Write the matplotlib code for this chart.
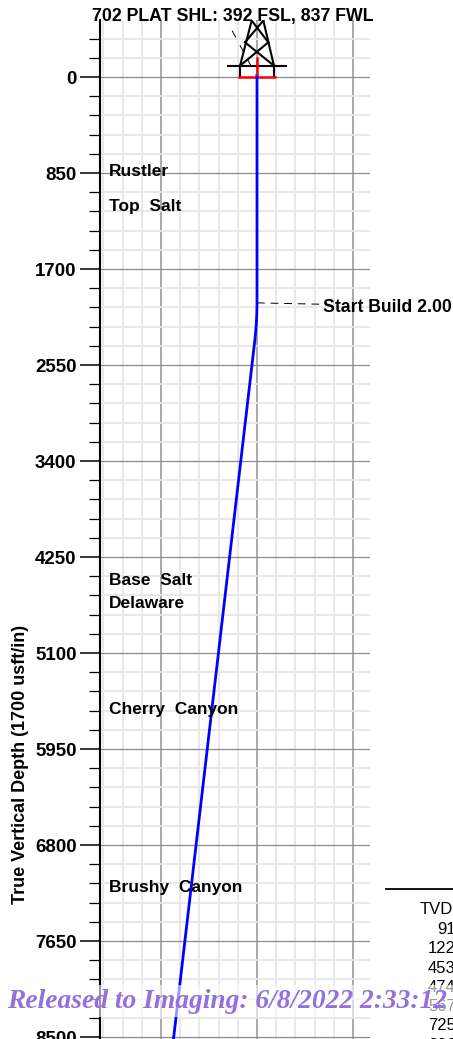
import matplotlib
matplotlib.use("Agg")
import matplotlib.pyplot as plt
from matplotlib.patches import Rectangle
import numpy as np

plt.rcParams['font.family'] = ['Liberation Sans', 'DejaVu Sans']

W, H = 453, 1039

# well path, vertical section vs TVD (usft)
path_tvd = [0, 2000, 2100, 2200, 2330, 8600]
path_vs = [0, 0, -2, -7, -19, -749]

# formation tops: name, label depth
form_names = ["Rustler", "Top  Salt", "Base  Salt", "Delaware", "Cherry  Canyon", "Brushy  Canyon", "Bone  Spring"]
form_tvd = [835, 1145, 4457, 4662, 5602, 7177, 8580]

major_ticks = [0, 850, 1700, 2550, 3400, 4250, 5100, 5950, 6800, 7650, 8500]
major_x = [-850, 0, 850]

# rig drawing, in chart units
rig_black = [
    ([-150, -150], [-100, 0]), ([150, 150], [-100, 0]),
    ([-255, 260], [-100, -100]),
    ([-150, -47], [-100, -500]), ([150, 56], [-100, -500]),
    ([-150, 100], [-100, -307]), ([150, -106], [-100, -307]),
    ([-106, 56], [-307, -500]), ([100, -47], [-307, -500]),
]
rig_red = [([-160, 160], [0, 0]), ([0, 0], [-170, 0])]
rig_dash = ([-220, 0], [-410, 0])

# table at bottom right, runs off the page
table_head = "TVD"
table_tvd = ["915", "1225", "4535", "4740", "5670", "7255", "8265"]

px_per_unit = 96 / 850
x0_px, y0_px = 257, 77
left_px, right_px, top_px = 100, 370, 20


def xval(px):
    return (px - x0_px) / px_per_unit


def yval(py):
    return (py - y0_px) / px_per_unit


fig = plt.figure(figsize=(W / 100, H / 100), dpi=100)
ax = fig.add_axes([left_px / W, 0, (right_px - left_px) / W, 1 - top_px / H])
ax.set_xlim(xval(left_px), xval(right_px))
ax.set_ylim(yval(H), yval(top_px))

# grid
ax.set_xticks(np.arange(-1360, 1000, 170), minor=True)
ax.set_yticks(np.arange(-340, 8600, 170), minor=True)
ax.set_xticks(major_x)
ax.set_yticks(major_ticks)
ax.grid(True, which='minor', color='#e6e6e6', linewidth=1.3, zorder=0)
ax.grid(True, which='major', axis='y', color='#8c8c8c', linewidth=0.9, zorder=1)
ax.grid(True, which='major', axis='x', color='#a8a8a8', linewidth=1.4, zorder=1)
ax.set_axisbelow(True)

for s in ['top', 'right', 'bottom']:
    ax.spines[s].set_visible(False)
ax.spines['left'].set_linewidth(1.5)

ax.tick_params(axis='x', which='both', length=0, labelbottom=False)
ax.tick_params(axis='y', which='major', length=14.4, width=1.1, pad=2.5, labelsize=13.5)
ax.tick_params(axis='y', which='minor', length=8, width=0.9)
for lab in ax.get_yticklabels():
    lab.set_fontweight('bold')

fig.text(20.5 / W, 1 - 764 / H, "True Vertical Depth (1700 usft/in)", rotation=90,
         ha='center', va='center', fontsize=13, fontweight='bold')

# rig
for xs, ys in rig_black:
    ax.plot(xs, ys, color='black', linewidth=1.5, zorder=3)
ax.plot(rig_dash[0], rig_dash[1], color='black', linewidth=0.7, dashes=(8, 9), zorder=3)
for xs, ys in rig_red:
    ax.plot(xs, ys, color='red', linewidth=1.8, zorder=4)

# well path
ax.plot(path_vs, path_tvd, color='blue', linewidth=2, zorder=5)

# start build callout
ax.plot([0, 575], [2000, 2012], color='black', linewidth=0.7, dashes=(8, 6), zorder=3)
ax.text(xval(323), yval(307.5), "Start Build 2.00", fontsize=12.7, fontweight='bold',
        ha='left', va='center', clip_on=False, zorder=6)

for name, d in zip(form_names, form_tvd):
    ax.text(xval(109), d, name, fontsize=12.5, fontweight='bold', ha='left', va='center', zorder=6)

# title
fig.text(233 / W, 1 - 16.5 / H, "702 PLAT SHL: 392 FSL, 837 FWL", ha='center', va='center',
         fontsize=12.75, fontweight='bold', zorder=7)

# table
fig.add_artist(plt.Line2D([386 / W, 1], [1 - 889 / H, 1 - 889 / H], color='black', linewidth=1.3))
fig.text(420 / W, 1 - 910 / H, table_head, fontsize=12, ha='left', va='center')
for i, v in enumerate(table_tvd):
    fig.text(465 / W, 1 - (929.5 + i * 19.3) / H, v, fontsize=12, ha='right', va='center')

# imaging stamp
fig.add_artist(Rectangle((0, 1 - 1017 / H), 1, 32 / H, transform=fig.transFigure,
                         facecolor='white', edgecolor='none', alpha=0.6, zorder=20))
fig.text(7 / W, 1 - 1002 / H, "Released to Imaging: 6/8/2022 2:33:12 PM",
         family='Liberation Serif', fontweight='bold', fontstyle='italic',
         fontsize=19.8, color='#9370db', ha='left', va='center', zorder=21)

fig.savefig("out.png", dpi=100)
